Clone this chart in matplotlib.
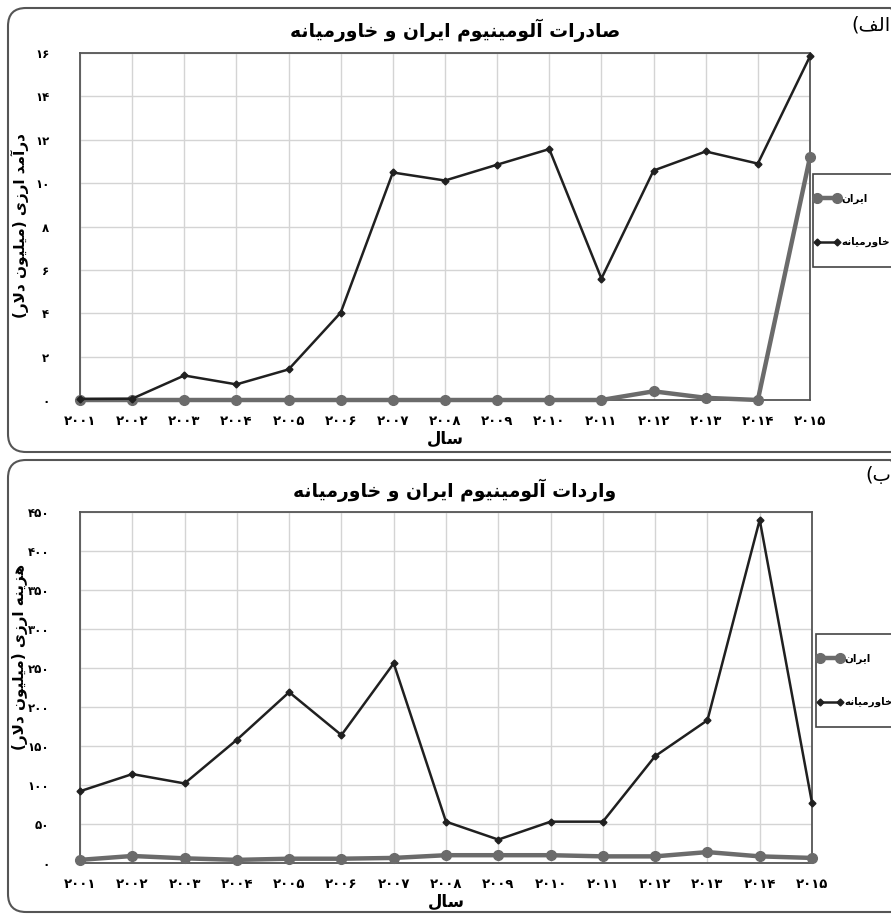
import matplotlib
matplotlib.use('Agg')
import matplotlib.pyplot as plt
from matplotlib.patches import FancyBboxPatch, Rectangle

# data
years = ['2001', '2002', '2003', '2004', '2005', '2006', '2007', '2008',
         '2009', '2010', '2011', '2012', '2013', '2014', '2015']
exp_iran = [0, 0, 0, 0, 0, 0, 0, 0, 0, 0, 0, 0.4, 0.1, 0, 11.2]
exp_me = [0.05, 0.06, 1.13, 0.72, 1.41, 4.03, 10.49, 10.12, 10.85, 11.57,
          5.6, 10.58, 11.46, 10.9, 15.85]
imp_iran = [4, 9, 6, 4, 5.5, 5.5, 6.5, 10, 10, 10, 8.5, 8.5, 14, 8.5, 6.5]
imp_me = [92, 114, 102, 158, 219, 164, 256, 53, 30, 53, 53, 137, 183, 440, 77]
exp_yticks = [0, 2, 4, 6, 8, 10, 12, 14, 16]
imp_yticks = [0, 50, 100, 150, 200, 250, 300, 350, 400, 450]

title_exp = 'صادرات آلومینیوم ایران و خاورمیانه'
title_imp = 'واردات آلومینیوم ایران و خاورمیانه'
ylab_exp = 'درآمد ارزی (میلیون دلار)'
ylab_imp = 'هزینه ارزی (میلیون دلار)'
xlab = 'سال'
lab_iran = 'ایران'
lab_me = 'خاورمیانه'
tag_a = 'الف)'
tag_b = 'ب)'

# matplotlib has no arabic shaping, so map letters to presentation forms
FORMS = {
    'ا': ('\uFE8D', '\uFE8E', None, None),
    'آ': ('\uFE81', '\uFE82', None, None),
    'ب': ('\uFE8F', '\uFE90', '\uFE91', '\uFE92'),
    'ت': ('\uFE95', '\uFE96', '\uFE97', '\uFE98'),
    'خ': ('\uFEA5', '\uFEA6', '\uFEA7', '\uFEA8'),
    'د': ('\uFEA9', '\uFEAA', None, None),
    'ر': ('\uFEAD', '\uFEAE', None, None),
    'ز': ('\uFEAF', '\uFEB0', None, None),
    'س': ('\uFEB1', '\uFEB2', '\uFEB3', '\uFEB4'),
    'ص': ('\uFEB9', '\uFEBA', '\uFEBB', '\uFEBC'),
    'ف': ('\uFED1', '\uFED2', '\uFED3', '\uFED4'),
    'ل': ('\uFEDD', '\uFEDE', '\uFEDF', '\uFEE0'),
    'م': ('\uFEE1', '\uFEE2', '\uFEE3', '\uFEE4'),
    'ن': ('\uFEE5', '\uFEE6', '\uFEE7', '\uFEE8'),
    'ه': ('\uFEE9', '\uFEEA', '\uFEEB', '\uFEEC'),
    'و': ('\uFEED', '\uFEEE', None, None),
    'ی': ('\uFBFC', '\uFBFD', '\uFBFE', '\uFBFF'),
}
LAMALEF = {'ا': ('\uFEFB', '\uFEFC'), 'آ': ('\uFEF5', '\uFEF6')}


def dual(c):
    return c in FORMS and FORMS[c][2] is not None


def fa(s):
    out = []
    i = 0
    while i < len(s):
        c = s[i]
        if c not in FORMS:
            out.append(c)
            i += 1
            continue
        join_prev = i > 0 and dual(s[i - 1])
        if c == 'ل' and i + 1 < len(s) and s[i + 1] in LAMALEF:
            lig = LAMALEF[s[i + 1]]
            out.append(lig[1] if join_prev else lig[0])
            i += 2
            continue
        join_next = dual(c) and i + 1 < len(s) and s[i + 1] in FORMS
        f = FORMS[c]
        if join_prev and join_next:
            g = f[3]
        elif join_prev:
            g = f[1]
        elif join_next:
            g = f[2]
        else:
            g = f[0]
        out.append(g)
        i += 1
    vis = ''.join(reversed(out))
    # rtl mirroring of brackets
    return vis.translate(str.maketrans('()', ')('))


def fdig(v):
    return str(v).translate(str.maketrans('0123456789', '۰۱۲۳۴۵۶۷۸۹'))


plt.rcParams['font.family'] = ['DejaVu Sans']
W, H = 891, 914
fig = plt.figure(figsize=(W / 100, H / 100), dpi=100)

# rounded panel frames
for top, bot in [(8, 452), (460, 912)]:
    p = FancyBboxPatch((8 / 100, (H - bot) / 100), 900 / 100, (bot - top) / 100,
                       boxstyle='round,pad=0,rounding_size=0.18',
                       transform=fig.dpi_scale_trans, facecolor='none',
                       edgecolor='#555555', linewidth=1.5)
    fig.add_artist(p)

panels = [
    (exp_iran, exp_me, exp_yticks, 16, title_exp, ylab_exp, tag_a,
     (80, 53, 810, 400), 30, 226, 25, (813, 174, 267)),
    (imp_iran, imp_me, imp_yticks, 450, title_imp, ylab_imp, tag_b,
     (80, 512, 812, 863), 490, 657, 476, (816, 634, 727)),
]

x = list(range(len(years)))
for iran, me, yt, ymax, title, ylab, tag, box, ty, ly, tagy, lg in panels:
    l, t, r, b = box
    ax = fig.add_axes([l / W, 1 - b / H, (r - l) / W, (b - t) / H])
    h1, = ax.plot(x, iran, color='#6b6b6b', lw=3.2, marker='o', ms=7,
                  label=fa(lab_iran), zorder=3, clip_on=False)
    h2, = ax.plot(x, me, color='#202020', lw=1.8, marker='D', ms=3.5,
                  label=fa(lab_me), zorder=4, clip_on=False)
    ax.set_xlim(0, 14)
    ax.set_ylim(0, ymax)
    ax.set_xticks(x)
    ax.set_xticklabels([fdig(y) for y in years], fontweight='bold', fontsize=9.5)
    ax.set_yticks(yt)
    ax.set_yticklabels([fdig(v) for v in yt], fontweight='bold', fontsize=8.5)
    ax.tick_params(length=0, pad=11)
    ax.tick_params(axis='y', pad=22)
    ax.grid(True, color='#d4d4d4', lw=1.0)
    ax.set_axisbelow(True)
    for s in ax.spines.values():
        s.set_color('#555555')
        s.set_linewidth(1.3)
    ax.set_xlabel(fa(xlab), fontweight='bold', fontsize=12, labelpad=1)
    fig.text(455 / W, 1 - ty / H, fa(title), ha='center', va='center',
             fontweight='bold', fontsize=13.5)
    fig.text(20 / W, 1 - ly / H, fa(ylab), ha='center', va='center',
             rotation=90, fontweight='bold', fontsize=11)
    fig.text(891 / W, 1 - tagy / H, fa(tag), ha='right', va='center',
             fontsize=14)

    # legend box reaches past the right edge, as in the reference
    lx, ltop, lbot = lg
    fig.add_artist(Rectangle((lx / W, 1 - lbot / H), 100 / W, (lbot - ltop) / H,
                             transform=fig.transFigure, facecolor='white',
                             edgecolor='#444444', linewidth=1.2, zorder=5))
    leg = fig.legend(handles=[h1, h2], loc='center left',
                     bbox_to_anchor=((lx + 1) / W, 1 - (ltop + lbot) / 2 / H),
                     bbox_transform=fig.transFigure, frameon=False,
                     prop={'weight': 'bold', 'size': 7.5}, numpoints=2,
                     handlelength=2.5, handletextpad=0.1, labelspacing=3.2,
                     borderpad=0, borderaxespad=0)
    leg.set_zorder(6)

fig.savefig('out.png', dpi=100)
